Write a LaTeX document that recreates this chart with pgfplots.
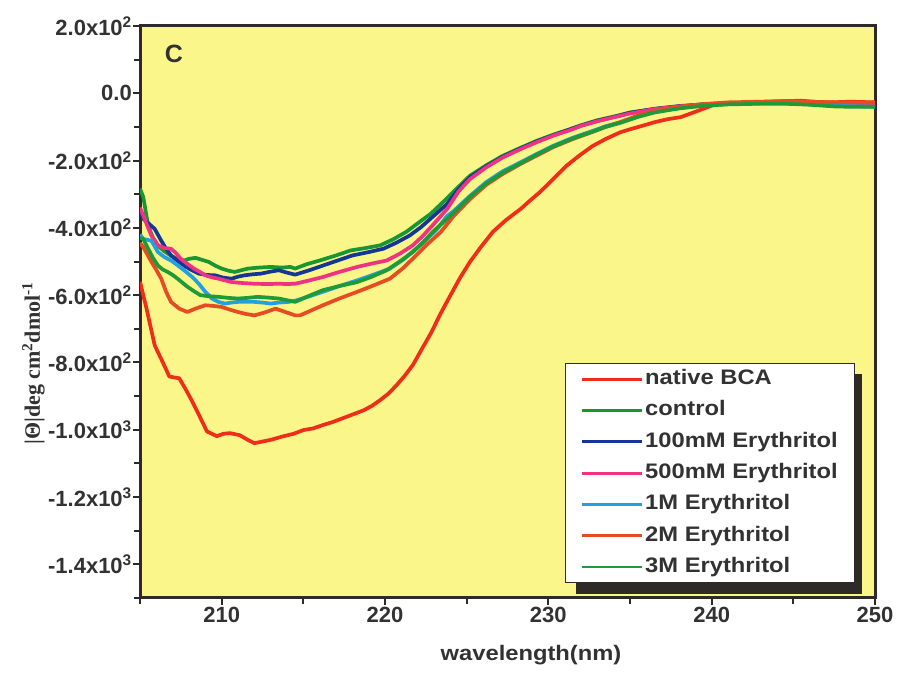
\documentclass[border=0pt]{standalone}
\usepackage{fontspec}
\setmainfont{Liberation Sans}
\newfontfamily\seriffont{Liberation Serif}
\newfontfamily\widefont[FakeStretch=1.13]{Liberation Sans}
\usepackage{pgfplots}
\pgfplotsset{compat=1.18}
\definecolor{bgyellow}{RGB}{250,246,138}
\definecolor{axiscol}{RGB}{45,42,40}
\definecolor{txtcol}{RGB}{50,50,50}
\definecolor{cnative}{RGB}{240,45,25}
\definecolor{ccontrol}{RGB}{25,150,50}
\definecolor{cblue}{RGB}{20,55,150}
\definecolor{cpink}{RGB}{240,50,130}
\definecolor{clblue}{RGB}{35,160,225}
\definecolor{ctwo}{RGB}{230,75,35}
\definecolor{cthree}{RGB}{30,155,55}
\begin{document}
\begin{tikzpicture}
\path[use as bounding box] (0,0) rectangle (899pt,676pt);
\begin{axis}[
  at={(140pt,78pt)}, anchor=south west,
  scale only axis, width=735pt, height=572pt,
  xmin=205, xmax=250, ymin=-1500, ymax=200,
  axis background/.style={fill=bgyellow},
  axis line style={line width=3pt, color=axiscol},
  xtick={210,220,230,240,250},
  minor xtick={205,215,225,235,245},
  ytick={-1400,-1200,-1000,-800,-600,-400,-200,0,200},
  yticklabels={-1.4x10\textsuperscript{3},-1.2x10\textsuperscript{3},-1.0x10\textsuperscript{3},-8.0x10\textsuperscript{2},-6.0x10\textsuperscript{2},-4.0x10\textsuperscript{2},-2.0x10\textsuperscript{2},0.0,2.0x10\textsuperscript{2}},
  minor ytick={-1500,-1300,-1100,-900,-700,-500,-300,-100,100},
  /pgf/number format/assume math mode=true,
  tick align=outside, xtick pos=bottom, ytick pos=left,
  major tick length=7pt, minor tick length=6pt,
  tick style={line width=2pt, color=axiscol},
  xticklabel style={font=\fontsize{22}{24}\selectfont\bfseries, text=txtcol, inner sep=2pt},
  yticklabel style={font=\fontsize{22}{24}\selectfont\bfseries, text=txtcol, inner sep=1pt},
  xlabel={wavelength(nm)},
  xlabel style={font=\widefont\fontsize{21}{24}\selectfont\bfseries, text=txtcol, at={(axis description cs:0.532,-0.1)}, anchor=center},
  ylabel={{\seriffont |Θ|deg cm\textsuperscript{2}dmol\textsuperscript{-1}}},
  ylabel style={font=\fontsize{22}{24}\selectfont\bfseries, text=txtcol, at={(axis description cs:-0.145,0.41)}, anchor=center},
  legend style={at={(axis description cs:0.578,0.411)}, anchor=north west,
    draw=axiscol, line width=1.2pt, fill=white,
    font=\widefont\fontsize{21}{24}\selectfont\bfseries, text=txtcol,
    inner xsep=15pt, inner ysep=4pt, row sep=7.8pt,
    nodes={inner sep=2pt, text height=15pt, text depth=4.5pt}},
  legend cell align=left,
  legend image code/.code={\draw[#1, line width=2.8pt] (0pt,0pt) -- (60pt,0pt);},
  every axis plot/.append style={line width=3.7pt, line join=round},
  clip=true,
]
% legend shadow
\fill[axiscol] (axis description cs:0.593,0.007) rectangle (axis description cs:0.982,0.392);
% native BCA
\addplot[color=cnative] coordinates {
(205.0,-560) (205.4,-640) (205.9,-749) (206.4,-800) (206.8,-842) (207.4,-847) (207.8,-880) (208.2,-916) (208.7,-965) (209.1,-1005) (209.7,-1019) (210.1,-1012) (210.5,-1010) (211.1,-1016) (211.6,-1030) (212.0,-1040) (212.5,-1035) (213.0,-1030) (213.8,-1019) (214.4,-1012) (215.0,-1001) (215.6,-996) (216.2,-986) (216.8,-977) (217.4,-966) (218.0,-955) (218.7,-942) (219.2,-929) (219.7,-912) (220.2,-893) (220.7,-868) (221.2,-840) (221.7,-808) (222.2,-765) (222.8,-714) (223.4,-655) (224.0,-601) (224.6,-548) (225.2,-501) (225.9,-455) (226.6,-412) (227.4,-377) (228.3,-344) (228.9,-318) (229.5,-293) (230.3,-255) (231.1,-216) (231.9,-185) (232.7,-157) (233.5,-136) (234.4,-116) (235.0,-107) (235.8,-96) (236.5,-86) (237.3,-77) (238.1,-71) (239.0,-55) (240.1,-35) (241.0,-30) (242.2,-27) (243.5,-25) (244.6,-23) (245.5,-22) (246.5,-26) (247.3,-27) (248.5,-25) (250.0,-27)
};
\addlegendentry{native BCA}
% control
\addplot[color=ccontrol] coordinates {
(205.0,-284) (205.2,-308) (205.5,-394) (205.8,-430) (206.1,-453) (206.5,-470) (206.9,-483) (207.3,-492) (207.7,-497) (208.0,-492) (208.4,-489) (208.8,-495) (209.2,-501) (209.6,-512) (210.0,-521) (210.4,-527) (210.8,-531) (211.2,-526) (211.6,-521) (212.3,-518) (213.0,-516) (213.7,-518) (214.2,-516) (214.5,-521) (215.2,-508) (216.0,-497) (217.0,-482) (217.9,-467) (218.8,-460) (219.7,-452) (220.5,-434) (221.3,-412) (222.1,-383) (222.8,-358) (223.8,-312) (224.5,-278) (225.2,-245) (226.2,-214) (227.2,-186) (228.3,-162) (229.3,-141) (230.3,-123) (231.3,-107) (232.0,-95) (233.0,-80) (234.2,-67) (235.0,-57) (236.5,-47) (238.0,-40) (239.5,-33) (241.0,-30) (242.5,-29) (244.5,-29) (246.0,-32) (247.0,-35) (248.3,-38) (249.0,-37) (250.0,-38)
};
\addlegendentry{control}
% 100mM
\addplot[color=cblue] coordinates {
(205.0,-350) (205.2,-373) (205.6,-390) (205.9,-403) (206.3,-438) (206.6,-462) (206.9,-482) (207.3,-498) (207.7,-512) (208.1,-524) (208.6,-536) (209.1,-540) (209.6,-541) (210.1,-548) (210.6,-551) (211.0,-545) (211.4,-541) (211.9,-538) (212.4,-536) (213.0,-530) (213.5,-526) (214.0,-533) (214.5,-539) (215.3,-527) (216.2,-512) (217.1,-497) (218.0,-482) (219.0,-472) (219.9,-462) (220.7,-444) (221.5,-423) (222.2,-398) (222.9,-368) (223.8,-329) (224.5,-285) (225.2,-250) (226.2,-217) (227.2,-189) (228.3,-164) (229.3,-143) (230.3,-125) (231.3,-108) (232.0,-96) (233.0,-82) (234.2,-68) (235.0,-58) (236.5,-46) (238.0,-38) (239.5,-33) (241.0,-29) (242.5,-28) (244.5,-28) (246.0,-32) (247.5,-36) (248.3,-37) (250.0,-37)
};
\addlegendentry{100mM Erythritol}
% 500mM
\addplot[color=cpink] coordinates {
(205.0,-340) (205.2,-363) (205.5,-400) (205.7,-423) (206.1,-452) (206.5,-460) (206.9,-462) (207.2,-475) (207.5,-492) (207.9,-507) (208.3,-521) (208.7,-532) (209.0,-541) (209.4,-547) (209.8,-551) (210.2,-556) (210.6,-561) (211.3,-564) (212.0,-566) (212.8,-567) (213.5,-566) (214.0,-567) (214.5,-566) (215.3,-557) (216.2,-546) (217.2,-531) (218.3,-516) (219.2,-506) (220.1,-497) (220.9,-477) (221.7,-452) (222.3,-425) (222.9,-393) (223.8,-344) (224.5,-292) (225.2,-255) (226.2,-220) (227.2,-191) (228.3,-166) (229.3,-145) (230.3,-126) (231.3,-110) (232.0,-97) (233.0,-83) (234.2,-69) (235.0,-60) (236.5,-47) (238.0,-39) (239.5,-33) (241.0,-30) (242.5,-29) (244.5,-29) (246.0,-32) (248.3,-37) (250.0,-37)
};
\addlegendentry{500mM Erythritol}
% 1M
\addplot[color=clblue] coordinates {
(205.0,-420) (205.2,-433) (205.7,-438) (206.1,-472) (206.5,-487) (206.9,-497) (207.3,-511) (207.7,-526) (208.2,-546) (208.6,-566) (209.0,-590) (209.4,-610) (209.8,-620) (210.2,-625) (210.6,-622) (211.0,-620) (211.5,-620) (212.0,-620) (212.5,-622) (213.0,-625) (213.5,-622) (214.1,-620) (214.6,-615) (215.4,-603) (216.2,-590) (217.2,-573) (218.3,-556) (219.3,-539) (220.3,-521) (221.1,-495) (221.9,-462) (222.6,-432) (223.2,-403) (223.8,-365) (224.2,-350) (225.2,-305) (226.2,-264) (227.2,-232) (228.3,-205) (229.3,-180) (230.3,-156) (231.5,-132) (232.7,-112) (233.5,-98) (234.4,-86) (235.5,-68) (236.5,-55) (238.0,-44) (239.5,-36) (241.0,-32) (243.0,-30) (244.5,-30) (246.0,-33) (248.3,-38) (250.0,-40)
};
\addlegendentry{1M Erythritol}
% 2M
\addplot[color=ctwo] coordinates {
(205.0,-445) (205.2,-457) (205.7,-501) (206.0,-525) (206.3,-551) (206.6,-590) (206.9,-620) (207.4,-640) (207.9,-650) (208.4,-640) (209.0,-630) (209.5,-632) (210.0,-635) (210.5,-643) (211.0,-650) (211.5,-656) (212.0,-660) (212.6,-652) (213.3,-640) (213.9,-650) (214.5,-660) (214.8,-660) (215.5,-645) (216.2,-630) (217.2,-610) (218.3,-590) (219.3,-571) (220.3,-551) (221.1,-520) (221.9,-482) (222.6,-448) (223.4,-413) (224.2,-365) (225.2,-315) (226.2,-272) (227.2,-240) (228.3,-210) (229.3,-185) (230.3,-160) (231.5,-136) (232.7,-115) (233.5,-100) (234.4,-86) (235.5,-66) (236.5,-52) (238.0,-40) (239.5,-32) (241.0,-27) (243.0,-25) (244.5,-23) (246.0,-25) (247.5,-27) (249.0,-27) (250.0,-27)
};
\addlegendentry{2M Erythritol}
% 3M
\addplot[color=cthree] coordinates {
(205.0,-430) (205.2,-433) (205.5,-462) (205.8,-490) (206.1,-512) (206.4,-524) (206.7,-531) (207.0,-540) (207.3,-551) (207.6,-563) (207.9,-575) (208.3,-588) (208.7,-600) (209.2,-603) (209.8,-605) (210.4,-608) (211.0,-610) (211.6,-608) (212.2,-605) (212.8,-607) (213.5,-610) (214.0,-615) (214.5,-620) (215.3,-603) (216.2,-585) (217.2,-573) (218.3,-561) (219.2,-545) (220.1,-526) (220.9,-500) (221.7,-472) (222.3,-445) (222.9,-413) (223.8,-373) (224.2,-355) (225.2,-308) (226.2,-268) (227.2,-236) (228.3,-208) (229.3,-182) (230.3,-158) (231.5,-134) (232.7,-114) (233.5,-100) (234.4,-88) (235.5,-70) (236.5,-57) (238.0,-45) (239.5,-37) (241.0,-33) (243.0,-31) (244.5,-31) (246.0,-34) (247.5,-39) (248.3,-40) (250.0,-40)
};
\addlegendentry{3M Erythritol}
\node[font=\fontsize{25}{28}\selectfont\bfseries, text=txtcol] at (axis description cs:0.046,0.951) {C};
\end{axis}
\end{tikzpicture}
\end{document}
